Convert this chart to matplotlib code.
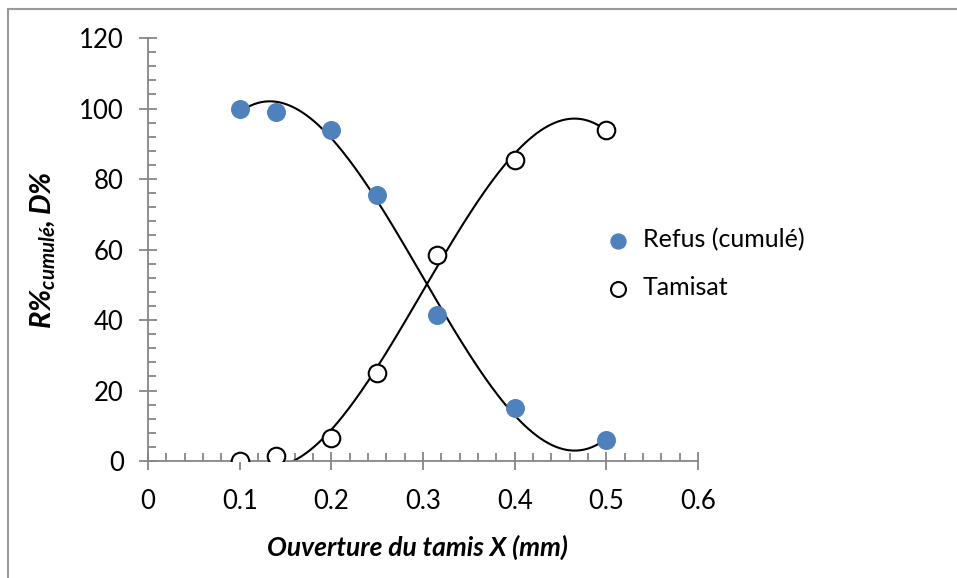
import numpy as np
import matplotlib
matplotlib.use('Agg')
import matplotlib.pyplot as plt
from matplotlib.lines import Line2D
from matplotlib.ticker import MultipleLocator

plt.rcParams['font.family'] = ['Lato', 'DejaVu Sans']
plt.rcParams['mathtext.fontset'] = 'custom'
plt.rcParams['mathtext.it'] = 'Lato:italic:bold'
plt.rcParams['mathtext.rm'] = 'Lato:italic:bold'

# Sieve openings (mm) and percentages.
OUVERTURE = [0.1, 0.14, 0.2, 0.25, 0.315, 0.4, 0.5]
REFUS = [100, 99, 94, 75.5, 41.5, 15, 6]
TAMISAT = [0, 1.5, 6.5, 25, 58.5, 85.5, 94]

AXIS_GREY = '#868686'
BLUE = '#4f81bd'

fig = plt.figure(figsize=(9.57, 5.78), dpi=100)
ax = fig.add_axes([0.1547, 0.2024, 0.5747, 0.7318])

x = np.array(OUVERTURE)
xs = np.linspace(x.min(), x.max(), 300)

# Excel-like 3rd-order polynomial trendlines
for vals in (REFUS, TAMISAT):
    coef = np.polyfit(x, vals, 3)
    ax.plot(xs, np.polyval(coef, xs), color='black', lw=1.5, zorder=2)

ax.scatter(OUVERTURE, REFUS, s=160, color=BLUE, zorder=3, label='Refus (cumulé)')
ax.scatter(OUVERTURE, TAMISAT, s=160, facecolor='white', edgecolor='black',
           linewidth=1.5, zorder=3, label='Tamisat')

ax.set_xlim(0, 0.6)
ax.set_ylim(0, 120)
ax.xaxis.set_major_locator(MultipleLocator(0.1))
ax.xaxis.set_minor_locator(MultipleLocator(0.02))
ax.yaxis.set_major_locator(MultipleLocator(20))
ax.yaxis.set_minor_locator(MultipleLocator(4))
ax.xaxis.set_major_formatter(plt.FuncFormatter(lambda v, p: '0' if v == 0 else f'{v:.1f}'))

for s in ('top', 'right'):
    ax.spines[s].set_visible(False)
for s in ('left', 'bottom'):
    ax.spines[s].set_color(AXIS_GREY)
    ax.spines[s].set_linewidth(1.3)

ax.tick_params(which='major', direction='inout', length=13, width=1.3,
               color=AXIS_GREY, labelsize=18.5)
ax.tick_params(which='minor', direction='in', length=6, width=1.3, color=AXIS_GREY)
ax.tick_params(axis='x', which='major', pad=14)
ax.tick_params(axis='y', which='major', pad=11)

ax.set_xlabel('Ouverture du tamis X (mm)', fontsize=19, fontweight='bold',
              fontstyle='italic')
ax.set_ylabel(r'$\mathit{R\%_{cumulé}, D\%}$', fontsize=21)
ax.xaxis.set_label_coords(0.49, -0.175)
ax.yaxis.set_label_coords(-0.165, 0.5)

ax.legend(loc='upper left', bbox_to_anchor=(0.79, 0.575), frameon=False,
          fontsize=18, handletextpad=0.0, labelspacing=1.0, borderaxespad=0,
          markerscale=0.85)

# chart-area border (left and top edges visible)
fig.add_artist(Line2D([0.0085, 0.0085], [0, 0.985], color='#9a9a9a', lw=1.5,
                      transform=fig.transFigure))
fig.add_artist(Line2D([0.0085, 1.0], [0.985, 0.985], color='#9a9a9a', lw=1.5,
                      transform=fig.transFigure))

fig.savefig('out.png', dpi=100)
